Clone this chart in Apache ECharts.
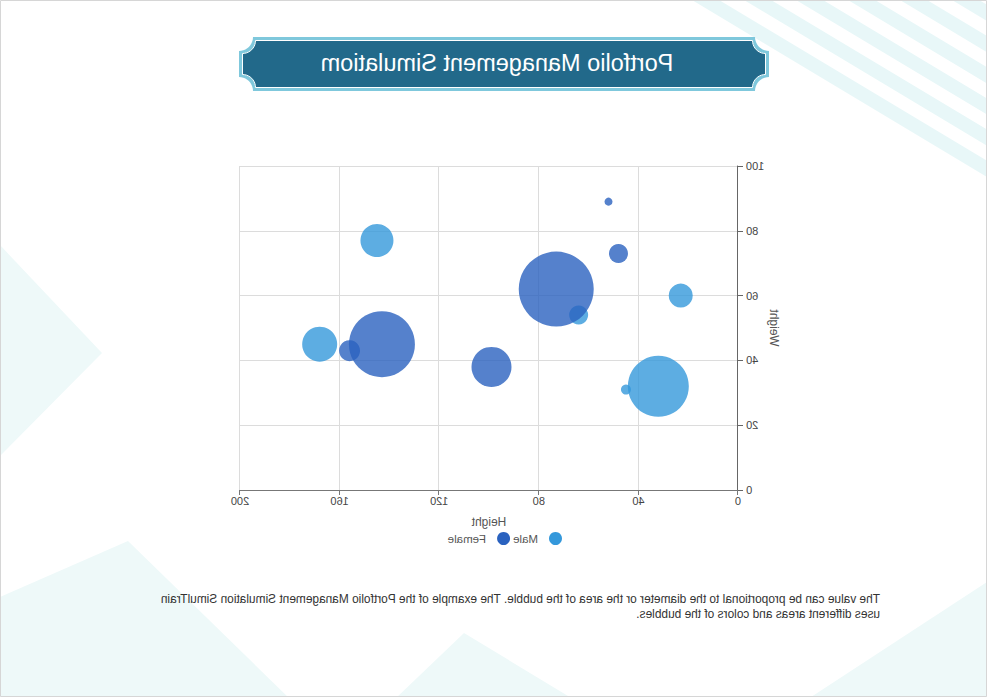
<!DOCTYPE html>
<html>
<head>
<meta charset="utf-8">
<script src="https://cdn.jsdelivr.net/npm/echarts@6/dist/echarts.min.js"></script>
<style>
  html, body { margin: 0; padding: 0; background: #ffffff; }
  #chart { width: 987px; height: 697px; transform: scaleX(-1); transform-origin: 50% 50%; }
</style>
</head>
<body>
<div id="chart"></div>
<script>
// ---- data ----
const titleText = 'Portfolio Management Simulatiom';
const noteText = 'The value can be proportional to the diameter or the area of the bubble. The example of the Portfolio Management Simulation SimulTrain\nuses different areas and colors of the bubbles.';
const seriesNames = ['Male', 'Female'];
const maleHeight = [145, 168, 64, 23, 32, 45];
const maleWeight = [77, 45, 54, 60, 32, 31];
const maleSize   = [33, 35, 19, 24, 61, 10];
const femaleHeight = [52, 48, 73, 156, 143, 99];
const femaleWeight = [89, 73, 62, 43, 45, 38];
const femaleSize   = [8, 19, 75, 21, 66, 40];
const xTicks = [0, 40, 80, 120, 160, 200];
const yTicks = [0, 20, 40, 60, 80, 100];

// ---- helpers ----
const W = 987;
const M = x => W - x; // reference is mirrored; layout is built in unmirrored coordinates
const font = '"Liberation Sans", Arial, sans-serif';
function zip(a, b, c) { return a.map((v, i) => [v, b[i], c[i]]); }

function arcPts(cx, cy, r, a0, a1, n) {
  const pts = [];
  for (let i = 0; i <= n; i++) {
    const a = a0 + (a1 - a0) * i / n;
    pts.push([cx + r * Math.cos(a), cy + r * Math.sin(a)]);
  }
  return pts;
}
function notchPoly(x0, y0, x1, y1, r) {
  const P = Math.PI, n = 10;
  return [].concat(
    arcPts(x1, y0, r, P, P / 2, n),
    arcPts(x1, y1, r, 3 * P / 2, P, n),
    arcPts(x0, y1, r, 0, -P / 2, n),
    arcPts(x0, y0, r, P / 2, 0, n)
  );
}

const deco = [];
const stripeColor = '#e8f7f8';
[692, 744, 796, 848, 900, 952].forEach(s => {
  const w = 27, L = 420;
  deco.push({ type: 'polygon', z: -10, silent: true,
    shape: { points: [[M(s), 0], [M(s + w), 0], [M(s + w + L), 0.6 * L], [M(s + L), 0.6 * L]] },
    style: { fill: stripeColor } });
});
const triColor = '#eef9f9';
[
  [[M(-2), 243], [M(102), 353], [M(-2), 458]],
  [[M(-2), 598], [M(128), 541], [M(290), 699], [M(-2), 699]],
  [[M(395), 699], [M(464), 633], [M(573), 699]],
  [[M(808), 699], [M(990), 580], [M(990), 699]]
].forEach(p => deco.push({ type: 'polygon', z: -10, silent: true, shape: { points: p }, style: { fill: triColor } }));

// page border
deco.push({ type: 'rect', z: -5, silent: true, shape: { x: 0.5, y: 0.5, width: W - 1, height: 696 },
  style: { fill: 'none', stroke: '#d6d6d6', lineWidth: 1 } });

// title banner
const bx0 = M(769), bx1 = M(239), by0 = 37, by1 = 91;
deco.push({ type: 'polygon', z: 5, silent: true, shape: { points: notchPoly(bx0, by0, bx1, by1, 14) },
  style: { fill: '#7fc8dc' } });
deco.push({ type: 'polygon', z: 6, silent: true, shape: { points: notchPoly(bx0 + 3.5, by0 + 3.5, bx1 - 3.5, by1 - 3.5, 13) },
  style: { fill: '#22698a', stroke: '#ffffff', lineWidth: 1 } });
deco.push({ type: 'text', z: 7, silent: true, x: M(497), y: 63,
  style: { text: titleText, fill: '#ffffff', font: '23.5px ' + font,
    align: 'center', verticalAlign: 'middle', textAlign: 'center', textVerticalAlign: 'middle' } });
deco.push({ type: 'text', z: 7, silent: true, x: M(880), y: 591,
  style: { text: noteText, fill: '#333333', font: '11.9px ' + font, lineHeight: 15,
    align: 'left', verticalAlign: 'top', textAlign: 'left', textVerticalAlign: 'top' } });

const chart = echarts.init(document.getElementById('chart'), null, { renderer: 'svg', width: 987, height: 697 });
chart.setOption({
  animation: false,
  backgroundColor: '#ffffff',
  textStyle: { fontFamily: font },
  graphic: { elements: deco },
  grid: { left: 249, right: 240, top: 166, bottom: 207, containLabel: false },
  legend: {
    data: seriesNames, left: 420, top: 527, itemWidth: 25, itemHeight: 13, itemGap: 3,
    icon: 'circle', itemStyle: { opacity: 1 },
    textStyle: { fontSize: 11.5, color: '#555', fontFamily: font }
  },
  xAxis: {
    type: 'value', min: xTicks[0], max: xTicks[xTicks.length - 1], interval: xTicks[1] - xTicks[0],
    name: 'Height', nameLocation: 'middle', nameGap: 26, nameMoveOverlap: false,
    nameTextStyle: { fontSize: 12, color: '#555' },
    axisLine: { show: true, lineStyle: { color: '#777' } },
    axisTick: { show: true, length: 5, lineStyle: { color: '#777' } },
    axisLabel: { fontSize: 11, color: '#444', margin: 5 },
    splitLine: { show: true, lineStyle: { color: '#dcdcdc' } }
  },
  yAxis: {
    type: 'value', min: yTicks[0], max: yTicks[yTicks.length - 1], interval: yTicks[1] - yTicks[0],
    name: 'Weight', nameLocation: 'middle', nameGap: 30, nameMoveOverlap: false,
    nameTextStyle: { fontSize: 12, color: '#555' },
    axisLine: { show: true, lineStyle: { color: '#666' } },
    axisTick: { show: true, length: 5, lineStyle: { color: '#666' } },
    axisLabel: { fontSize: 11, color: '#444', margin: 8 },
    splitLine: { show: true, lineStyle: { color: '#dcdcdc' } }
  },
  series: [
    {
      name: seriesNames[0], type: 'scatter',
      data: zip(maleHeight, maleWeight, maleSize),
      symbolSize: d => d[2],
      itemStyle: { color: '#3498db', opacity: 0.8 }
    },
    {
      name: seriesNames[1], type: 'scatter',
      data: zip(femaleHeight, femaleWeight, femaleSize),
      symbolSize: d => d[2],
      itemStyle: { color: '#2a62bf', opacity: 0.8 }
    }
  ]
});
</script>
</body>
</html>
